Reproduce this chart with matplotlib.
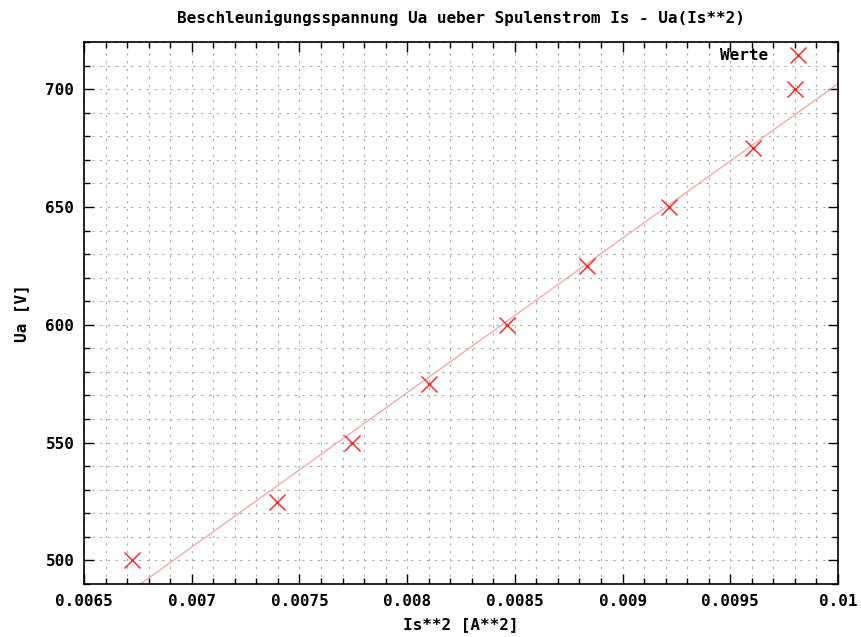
import numpy as np
import matplotlib.pyplot as plt
from matplotlib.ticker import MultipleLocator

# Messwerte: Spulenstrom zum Quadrat und Beschleunigungsspannung
is_sq = [0.006724, 0.007396, 0.007744, 0.0081, 0.008464, 0.008836, 0.009216, 0.009604, 0.009801]
ua = [500, 525, 550, 575, 600, 625, 650, 675, 700]

# Fit-Gerade Ua = a*x + b
fit_a = 65550.0
fit_b = 46.8

x_ticks = [0.0065, 0.007, 0.0075, 0.008, 0.0085, 0.009, 0.0095, 0.01]
x_ticklabels = ['0.0065', '0.007', '0.0075', '0.008', '0.0085', '0.009', '0.0095', '0.01']
y_ticks = [500, 550, 600, 650, 700]

plt.rcParams['font.family'] = ['DejaVu Sans Mono']
plt.rcParams['font.weight'] = 'bold'
fs = 11.5

fig = plt.figure(figsize=(8.61, 6.37), dpi=100)
ax = fig.add_axes([84 / 861, 53 / 637, 754 / 861, 542 / 637])

xs = np.linspace(0.0065, 0.01, 200)
ax.plot(xs, fit_a * xs + fit_b, color='#f5a3a3', lw=0.9, zorder=2)
ax.plot(is_sq, ua, 'x', color='#ff2020', ms=12, mew=1.0, ls='none', label='Werte', zorder=3)

ax.set_xlim(0.0065, 0.01)
ax.set_ylim(490, 720)
ax.set_xticks(x_ticks)
ax.set_xticklabels(x_ticklabels)
ax.set_yticks(y_ticks)
ax.xaxis.set_minor_locator(MultipleLocator(0.0001))
ax.yaxis.set_minor_locator(MultipleLocator(10))

ax.grid(True, which='both', color='#a8a8a8', ls=(0, (2, 5)), lw=0.8)
ax.set_axisbelow(True)
ax.tick_params(which='both', direction='in', top=True, right=True, labelsize=fs, pad=7)
ax.tick_params(which='major', length=7, width=1)
ax.tick_params(which='minor', length=4, width=1)
for sp in ax.spines.values():
    sp.set_linewidth(1.2)

ax.set_title('Beschleunigungsspannung Ua ueber Spulenstrom Is - Ua(Is**2)', fontsize=fs, pad=14, fontweight='bold')
ax.set_xlabel('Is**2 [A**2]', fontsize=fs, labelpad=6, fontweight='bold')
ax.set_ylabel('Ua [V]', fontsize=fs, labelpad=12, fontweight='bold')

ax.legend(loc='upper right', bbox_to_anchor=(0.968, 1.0), frameon=False, markerfirst=False,
          fontsize=fs, handlelength=1.2, borderaxespad=0.0, handletextpad=1.28)

fig.savefig('out.png', dpi=100)
